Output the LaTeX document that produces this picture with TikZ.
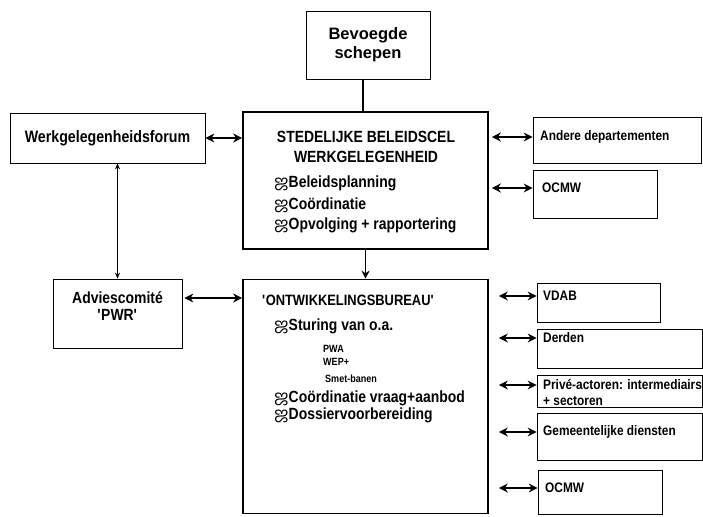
\documentclass[tikz,border=0pt]{standalone}
\usepackage{fontspec}
\setmainfont{Liberation Sans}[FakeStretch=0.86]
\newfontfamily\widefont{Liberation Sans}
\newfontfamily\tamilfont[Script=Tamil]{Hind Madurai}
\usepackage{tikz}
\usetikzlibrary{arrows.meta}
\newcommand{\bul}{{\tamilfont\mdseries\fontsize{17}{17}\selectfont ஜ}}

\begin{document}
\begin{tikzpicture}[x = 1pt, y = -1pt,
        box/.style = {draw, line width = 0.7pt, inner sep = 0pt},
        thickbox/.style = {draw, line width = 1.6pt, inner sep = 0pt},
        txt/.style = {inner sep = 0pt, anchor = west, font = \fontsize{16.2}{16.2}\bfseries\selectfont},
        smalltxt/.style = {inner sep = 0pt, anchor = west, font = \fontsize{13.8}{13.8}\bfseries\selectfont},
        tinytxt/.style = {inner sep = 0pt, anchor = west, font = \fontsize{10.5}{10.5}\bfseries\selectfont},
        dbl/.style = {{Stealth[length = 9pt, width = 9pt]}-{Stealth[length = 9pt, width = 9pt]}, line width = 1.6pt}]
        \useasboundingbox (0, 0) rectangle (703, 516);

        \node [box, minimum width = 124pt, minimum height = 68pt, align = center,
            font = \widefont\fontsize{16.5}{19}\bfseries\selectfont] (schepen) at (368, 45) {Bevoegde\\schepen};
        \node [thickbox, minimum width = 245pt, minimum height = 137pt] (cel) at (365.5, 180.5) {};
        \node [box, minimum width = 195pt, minimum height = 50pt,
            font = \fontsize{16.5}{16.5}\bfseries\selectfont] (forum) at (107.5, 138) {Werkgelegenheidsforum};
        \node [box, minimum width = 168pt, minimum height = 46pt] (andere) at (617, 140) {};
        \node [box, minimum width = 124pt, minimum height = 48pt] (ocmwa) at (595, 194) {};
        \node [box, minimum width = 129pt, minimum height = 69pt] (advies) at (117.5, 313.5) {};
        \node [thickbox, minimum width = 245pt, minimum height = 234pt] (bureau) at (365.5, 396.5) {};
        \node [box, minimum width = 123pt, minimum height = 39pt] (vdab) at (598.5, 302.5) {};
        \node [box, minimum width = 165pt, minimum height = 39pt] (derden) at (619.5, 348.5) {};
        \node [box, minimum width = 165pt, minimum height = 32pt] (prive) at (619.5, 391) {};
        \node [box, minimum width = 165pt, minimum height = 47pt] (gemeente) at (619.5, 436.5) {};
        \node [box, minimum width = 124pt, minimum height = 44pt] (ocmwb) at (600, 492) {};

        \node [txt, anchor = center] (celtitel) at (366, 137) {STEDELIJKE BELEIDSCEL};
        \node [txt, anchor = center] (celtitelb) at (366, 157) {WERKGELEGENHEID};
        \node [txt] (planning) at (274, 183) {\bul Beleidsplanning};
        \node [txt] (coord) at (274, 205) {\bul Coördinatie};
        \node [txt] (opvolging) at (274, 225) {\bul Opvolging + rapportering};

        \node [txt, anchor = center] (adviesa) at (117.5, 298) {Adviescomité};
        \node [txt, anchor = center] (adviesb) at (117.5, 315) {\textquotesingle PWR\textquotesingle};

        \node [txt, font = \fontsize{15}{15}\bfseries\selectfont] (burtitel) at (262, 300)
            {\textquotesingle ONTWIKKELINGSBUREAU\textquotesingle};
        \node [txt] (sturing) at (274, 326) {\bul Sturing van o.a.};
        \node [tinytxt] (pwa) at (323, 349) {PWA};
        \node [tinytxt] (wep) at (323, 362) {WEP+};
        \node [tinytxt] (smet) at (325, 379) {Smet-banen};
        \node [txt] (vraag) at (274, 398) {\bul Coördinatie vraag+aanbod};
        \node [txt] (dossier) at (274, 415) {\bul Dossiervoorbereiding};

        \node [smalltxt] (anderetxt) at (540, 137) {Andere departementen};
        \node [smalltxt] (ocmwatxt) at (542, 188) {OCMW};
        \node [smalltxt] (vdabtxt) at (543, 296) {VDAB};
        \node [smalltxt] (derdentxt) at (543, 338) {Derden};
        \node [smalltxt] (privetxt) at (543, 385) {Privé-actoren: intermediairs};
        \node [smalltxt] (privetxtb) at (543, 401) {+ sectoren};
        \node [smalltxt] (gemeentetxt) at (543, 432) {Gemeentelijke diensten};
        \node [smalltxt] (ocmwbtxt) at (545, 488) {OCMW};

        \draw [line width = 1.4pt] (cel.north -| schepen.south) ++(-5, 0) coordinate (top)
            (top) -- (top |- schepen.south);
        \draw [-{Stealth[length = 8pt, width = 8pt]}, line width = 1.4pt] (cel.south) -- (bureau.north);
        \draw [{Stealth[length = 6pt, width = 5pt]}-{Stealth[length = 6pt, width = 5pt]}, line width = 0.6pt]
            (advies.north) -- (advies.north |- forum.south);

        \draw [dbl] (forum.east) -- (cel.west |- forum.east);
        \draw [dbl] (cel.east |- anderetxt.west) ++(3, 0) -- (andere.west |- anderetxt.west);
        \draw [dbl] (cel.east |- ocmwatxt.west) ++(3, 0) -- (ocmwa.west |- ocmwatxt.west);
        \draw [dbl] (advies.east |- adviesa.east) ++(2, 0) -- (bureau.west |- adviesa.east);

        \draw [dbl, line width = 1.2pt] (bureau.east |- vdabtxt.west) ++(10, 0) -- (vdab.west |- vdabtxt.west);
        \draw [dbl, line width = 1.2pt] (bureau.east |- derdentxt.west) ++(10, 0) -- (derden.west |- derdentxt.west);
        \draw [dbl, line width = 1.2pt] (bureau.east |- privetxt.west) ++(10, 0) -- (prive.west |- privetxt.west);
        \draw [dbl, line width = 1.2pt] (bureau.east |- gemeentetxt.west) ++(10, 0) -- (gemeente.west |- gemeentetxt.west);
        \draw [dbl, line width = 1.2pt] (bureau.east |- ocmwbtxt.west) ++(10, 0) -- (ocmwb.west |- ocmwbtxt.west);
    \end{tikzpicture}
\end{document}
